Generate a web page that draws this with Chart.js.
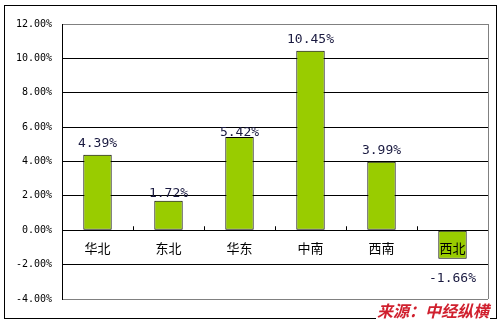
<!DOCTYPE html>
<html>
<head>
<meta charset="utf-8">
<script src="https://cdn.jsdelivr.net/npm/chart.js@4/dist/chart.umd.min.js"></script>
<style>
  html, body { margin: 0; padding: 0; background: #fff; }
  #wrap { position: relative; width: 500px; height: 324px; }
  #frame { position: absolute; left: 4px; top: 5px; width: 491px; height: 312px; border: 1px solid #000; }
  #src { position: absolute; left: 376px; top: 301px; font: italic bold 16px "Noto Sans CJK SC", sans-serif; color: #d0202e; background: #fff; line-height: 19px; padding: 0 1px; }
</style>
</head>
<body>
<div id="wrap">
  <div id="frame"></div>
  <canvas id="chart" width="500" height="324" style="position:absolute;left:0;top:0"></canvas>
  <div id="src">来源：中经纵横</div>
</div>
<script>
let regions = ['华北', '东北', '华东', '中南', '西南', '西北'];
let growth = [4.39, 1.72, 5.42, 10.45, 3.99, -1.66];
let yTicks = [12, 10, 8, 6, 4, 2, 0, -2, -4];

// label vertical offsets (px from bar end)
let labelShift = [-11, -7, -4, -11, -11, 20];

let labels = {
  id: 'labels',
  afterDatasetsDraw(chart) {
    let ctx = chart.ctx;
    let x = chart.scales.x;
    let y = chart.scales.y;
    let zero = y.getPixelForValue(0);
    ctx.save();
    // little tick marks between categories, on the zero line
    ctx.strokeStyle = '#000';
    ctx.lineWidth = 1;
    for (let i = 1; i < regions.length; i++) {
      let px = Math.round((x.getPixelForValue(i - 1) + x.getPixelForValue(i)) / 2) + 0.5;
      ctx.beginPath();
      ctx.moveTo(px, zero);
      ctx.lineTo(px, zero - 4);
      ctx.stroke();
    }
    // category names under the zero line
    ctx.fillStyle = '#000';
    ctx.font = '13px "Noto Sans CJK SC", sans-serif';
    ctx.textAlign = 'center';
    ctx.textBaseline = 'middle';
    regions.forEach((r, i) => {
      ctx.fillText(r, x.getPixelForValue(i), zero + 18);
    });
    // value labels
    ctx.font = '13px "DejaVu Sans Mono", monospace';
    ctx.fillStyle = '#1a1a40';
    growth.forEach((v, i) => {
      let end = y.getPixelForValue(v);
      ctx.fillText(v.toFixed(2) + '%', x.getPixelForValue(i), end + labelShift[i]);
    });
    ctx.restore();
  }
};

let ctx = document.getElementById('chart').getContext('2d');
let myChart = new Chart(ctx, {
  type: 'bar',
  data: {
    labels: regions,
    datasets: [{
      data: growth,
      backgroundColor: '#99cc00',
      borderColor: '#000',
      borderWidth: 1,
      borderSkipped: false,
      barPercentage: 0.4,
      categoryPercentage: 1
    }]
  },
  options: {
    responsive: false,
    animation: false,
    layout: { padding: { top: 24, right: 12, left: 0, bottom: 0 } },
    plugins: { legend: { display: false }, tooltip: { enabled: false } },
    scales: {
      x: {
        grid: { display: false },
        border: { display: false },
        ticks: { display: false },
        afterFit(s) { s.height = 25; }
      },
      y: {
        min: -4,
        max: 12,
        afterBuildTicks(s) { s.ticks = yTicks.map(v => ({ value: v })); },
        afterFit(s) { s.width = 62; },
        border: { color: '#000', width: 1 },
        grid: {
          drawTicks: false,
          color: c => (c.tick.value === 12 || c.tick.value === -4) ? '#808080' : '#000',
          lineWidth: 1
        },
        ticks: {
          padding: 10,
          color: '#000',
          font: { family: 'DejaVu Sans Mono', size: 10 },
          callback: v => v.toFixed(2) + '%'
        }
      }
    }
  },
  plugins: [labels, {
    id: 'rightEdge',
    afterDraw(chart) {
      let a = chart.chartArea;
      let c = chart.ctx;
      c.save();
      c.strokeStyle = '#808080';
      c.beginPath();
      c.moveTo(Math.round(a.right) + 0.5, a.top);
      c.lineTo(Math.round(a.right) + 0.5, a.bottom);
      c.stroke();
      c.restore();
    }
  }]
});
</script>
</body>
</html>
